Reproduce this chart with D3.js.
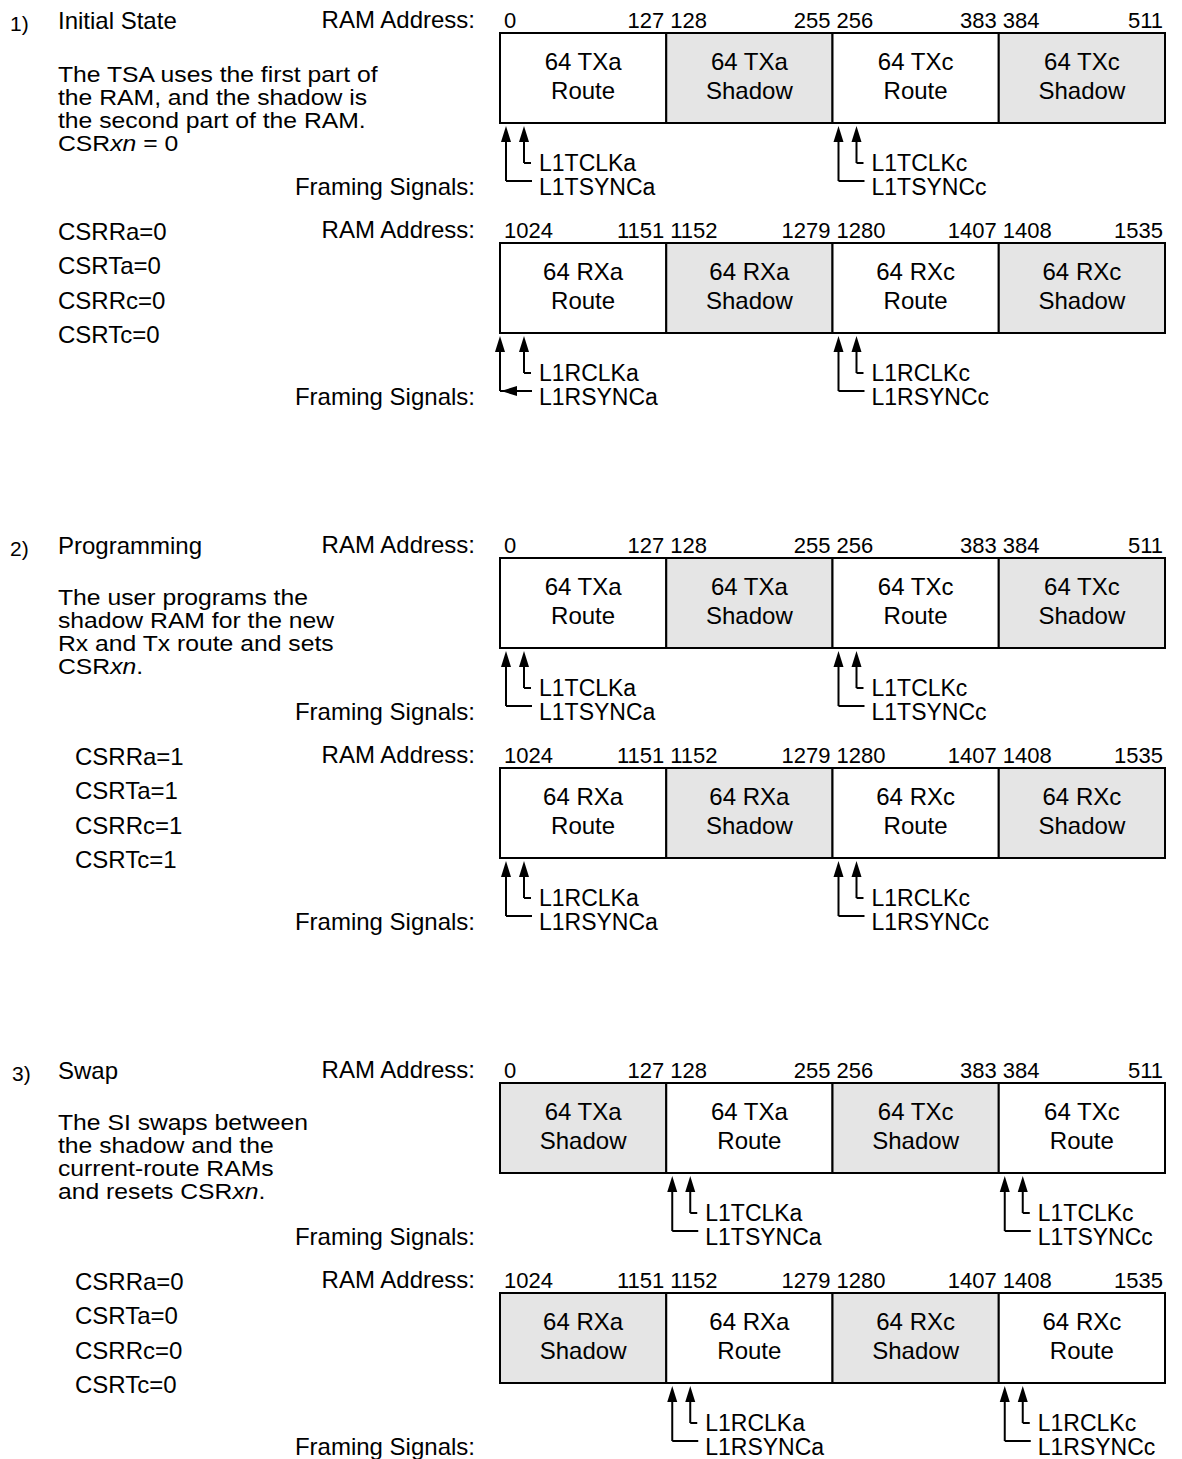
<!DOCTYPE html>
<html>
<head>
<meta charset="utf-8">
<script src="https://cdn.jsdelivr.net/npm/d3@7"></script>
<style>
body { margin: 0; background: #fff; }
text { font-family: "Liberation Sans", Arial, Helvetica, sans-serif; fill: #000; }
</style>
</head>
<body>
<svg id="chart" width="1182" height="1459"></svg>
<script>
// steps of the shadow RAM swap
let stepNumbers = ['1)', '2)', '3)'];
let stepTitles = ['Initial State', 'Programming', 'Swap'];
// each line is a list of segments, odd segments are italic
let stepNotes = [
    [['The TSA uses the first part of'], ['the RAM, and the shadow is'], ['the second part of the RAM.'], ['CSR', 'xn', ' = 0']],
    [['The user programs the'], ['shadow RAM for the new'], ['Rx and Tx route and sets'], ['CSR', 'xn', '.']],
    [['The SI swaps between'], ['the shadow and the'], ['current-route RAMs'], ['and resets CSR', 'xn', '.']]
];
let csrNames = ['CSRRa', 'CSRTa', 'CSRRc', 'CSRTc'];
let csrValues = [0, 1, 0];

// RAM address ranges
let txRanges = [[0, 127], [128, 255], [256, 383], [384, 511]];
let rxRanges = [[1024, 1151], [1152, 1279], [1280, 1407], [1408, 1535]];
let txBlocks = ['64 TXa', '64 TXa', '64 TXc', '64 TXc'];
let rxBlocks = ['64 RXa', '64 RXa', '64 RXc', '64 RXc'];
let stepRoles = [
    ['Route', 'Shadow', 'Route', 'Shadow'],
    ['Route', 'Shadow', 'Route', 'Shadow'],
    ['Shadow', 'Route', 'Shadow', 'Route']
];

// framing signals: which block each channel currently points at
let channels = ['a', 'c'];
let stepSignalBlocks = [[0, 2], [0, 2], [1, 3]];
let txSignals = ['L1TCLK', 'L1TSYNC'];
let rxSignals = ['L1RCLK', 'L1RSYNC'];
// the one sync arrow drawn differently in the first step
let oddSync = {step: 0, bus: 'rx', channel: 'a'};

let colorShadow = '#e5e5e5';
let colorLine = '#000';

let svg = d3.select('#chart');
svg.append('rect').attr('width', 1182).attr('height', 1459).attr('fill', '#fff');

let stepTop = [0, 525, 1050];
let boxLeft = 500, boxRight = 1165, boxHeight = 90;
let busTop = {tx: 33, rx: 243};
let fontSize = 24;

function addText(g, x, y, str, size, anchor) {
    return g.append('text')
        .attr('x', x).attr('y', y)
        .attr('font-size', size || fontSize)
        .attr('text-anchor', anchor || 'start')
        .text(str);
}

// the notes are set a little wider than tall, like the original print
function richText(g, x, y, segments) {
    let t = g.append('text').attr('x', 0).attr('y', 0).attr('font-size', 21.5)
        .attr('transform', 'translate(' + x + ',' + y + ') scale(1.15,1)');
    segments.forEach(function (s, i) {
        t.append('tspan').attr('font-style', i % 2 ? 'italic' : 'normal').text(s);
    });
}

function upArrow(g, x, tipY, bottomY) {
    g.append('line')
        .attr('x1', x).attr('x2', x).attr('y1', tipY + 8).attr('y2', bottomY)
        .attr('stroke', colorLine).attr('stroke-width', 2);
    g.append('path')
        .attr('d', d3.line()([[x, tipY], [x - 5, tipY + 16], [x + 5, tipY + 16]]) + 'Z')
        .attr('fill', colorLine);
}

function drawBus(g, step, bus) {
    let ranges = bus === 'tx' ? txRanges : rxRanges;
    let blocks = bus === 'tx' ? txBlocks : rxBlocks;
    let signals = bus === 'tx' ? txSignals : rxSignals;
    let top = busTop[bus];
    let bottom = top + boxHeight;

    let x = d3.scaleLinear()
        .domain([ranges[0][0], ranges[ranges.length - 1][1] + 1])
        .range([boxLeft, boxRight]);

    addText(g, 475, top - 5, 'RAM Address:', fontSize, 'end');

    // address ticks
    ranges.forEach(function (r) {
        addText(g, x(r[0]) + 4, top - 5, r[0], 22, 'start');
        addText(g, x(r[1] + 1) - 2, top - 5, r[1], 22, 'end');
    });

    // RAM blocks
    let cells = g.selectAll('g.cell-' + bus)
        .data(ranges)
        .join('g')
        .attr('class', 'cell-' + bus);

    cells.append('rect')
        .attr('x', d => x(d[0]))
        .attr('y', top)
        .attr('width', d => x(d[1] + 1) - x(d[0]))
        .attr('height', boxHeight)
        .attr('fill', (d, i) => stepRoles[step][i] === 'Shadow' ? colorShadow : '#fff')
        .attr('stroke', colorLine)
        .attr('stroke-width', 2);

    cells.append('text')
        .attr('x', d => (x(d[0]) + x(d[1] + 1)) / 2)
        .attr('y', top + 37)
        .attr('font-size', fontSize)
        .attr('text-anchor', 'middle')
        .text((d, i) => blocks[i]);

    cells.append('text')
        .attr('x', d => (x(d[0]) + x(d[1] + 1)) / 2)
        .attr('y', top + 66)
        .attr('font-size', fontSize)
        .attr('text-anchor', 'middle')
        .text((d, i) => stepRoles[step][i]);

    // framing signals
    addText(g, 475, bottom + 72, 'Framing Signals:', fontSize, 'end');

    channels.forEach(function (ch, ci) {
        let x0 = x(ranges[stepSignalBlocks[step][ci]][0]);
        let odd = oddSync.step === step && oddSync.bus === bus && oddSync.channel === ch;
        let syncX = odd ? x0 : x0 + 6;
        let clkX = x0 + 24;

        // clock
        upArrow(g, clkX, bottom + 3, bottom + 40);
        g.append('line')
            .attr('x1', clkX).attr('x2', clkX + 7)
            .attr('y1', bottom + 40).attr('y2', bottom + 40)
            .attr('stroke', colorLine).attr('stroke-width', 2);

        // sync
        upArrow(g, syncX, bottom + 3, bottom + 58);
        g.append('line')
            .attr('x1', syncX).attr('x2', x0 + 32)
            .attr('y1', bottom + 58).attr('y2', bottom + 58)
            .attr('stroke', colorLine).attr('stroke-width', 2);
        if (odd) {
            g.append('path')
                .attr('d', d3.line()([[syncX + 1, bottom + 58], [syncX + 17, bottom + 53], [syncX + 17, bottom + 63]]) + 'Z')
                .attr('fill', colorLine);
        }

        addText(g, x0 + 39, bottom + 48, signals[0] + ch, 23);
        addText(g, x0 + 39, bottom + 72, signals[1] + ch, 23);
    });
}

stepTitles.forEach(function (title, s) {
    let g = svg.append('g').attr('transform', 'translate(0,' + stepTop[s] + ')');

    addText(g, s === 2 ? 12 : 10, 31, stepNumbers[s], 21);
    addText(g, 58, 29, title, fontSize);

    stepNotes[s].forEach(function (line, i) {
        richText(g, 58, (s === 0 ? 82 : 80) + i * 23, line);
    });

    let csrX = s === 0 ? 58 : 75;
    csrNames.forEach(function (name, i) {
        addText(g, csrX, 240 + i * 34.3, name + '=' + csrValues[s], fontSize);
    });

    drawBus(g, s, 'tx');
    drawBus(g, s, 'rx');
});
</script>
</body>
</html>
